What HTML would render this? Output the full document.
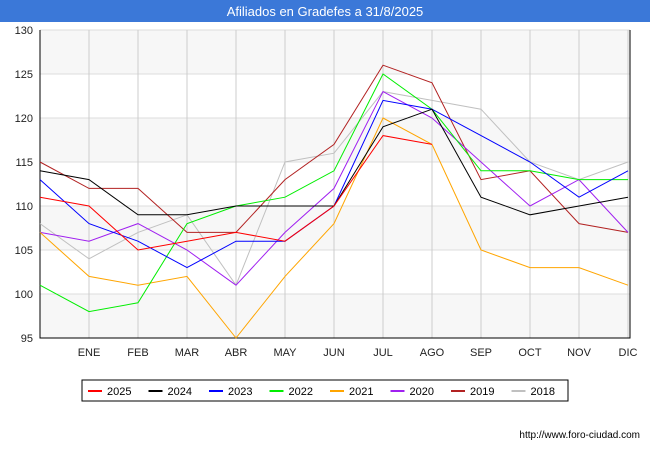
<!DOCTYPE html>
<html><head><meta charset="utf-8"><style>
body{margin:0;width:650px;height:450px;background:#fff;font-family:"Liberation Sans",sans-serif;overflow:hidden}
</style></head><body>
<svg width="650" height="450" font-family="Liberation Sans, sans-serif">
<rect x="0" y="0" width="650" height="22" fill="#3b78d8"/>
<text x="325" y="16" text-anchor="middle" fill="#fff" font-size="13">Afiliados en Gradefes a 31/8/2025</text>
<g id="plot"></g>
<text x="640" y="438" text-anchor="end" font-size="10" fill="#000">http://www.foro-ciudad.com</text>
</svg>
<script>
const months=["","ENE","FEB","MAR","ABR","MAY","JUN","JUL","AGO","SEP","OCT","NOV","DIC"];
const yTicks=[95,100,105,110,115,120,125,130];
const seriesNames=["2025","2024","2023","2022","2021","2020","2019","2018"];
const colors=["#ff0000","#000000","#0000ff","#00ee00","#ffa500","#a020f0","#b22222","#c0c0c0"];
const s2025=[111,110,105,106,107,106,110,118,117];
const s2024=[114,113,109,109,110,110,110,119,121,111,109,110,111];
const s2023=[113,108,106,103,106,106,110,122,121,118,115,111,114];
const s2022=[101,98,99,108,110,111,114,125,121,114,114,113,113];
const s2021=[107,102,101,102,95,102,108,120,117,105,103,103,101];
const s2020=[107,106,108,105,101,107,112,123,120,115,110,113,107];
const s2019=[115,112,112,107,107,113,117,126,124,113,114,108,107];
const s2018=[108,104,107,109,101,115,116,123,122,121,115,113,115];
const allSeries=[s2025,s2024,s2023,s2022,s2021,s2020,s2019,s2018];
const NS="http://www.w3.org/2000/svg";
const g=document.getElementById('plot');
const X0=40,X1=628,Y0=338,Y1=30;
const xs=i=>X0+i*(X1-X0)/12;
const ys=v=>Y0-(v-95)*(Y0-Y1)/35;
function el(t,a){const e=document.createElementNS(NS,t);for(const k in a)e.setAttribute(k,a[k]);g.appendChild(e);return e;}
for(let i=0;i<yTicks.length-1;i++){
 if(i%2==0){const b=el('rect',{x:X0,y:ys(yTicks[i+1]),width:630-X0,height:ys(yTicks[i])-ys(yTicks[i+1]),fill:'#f7f7f7'});
 
 }
}
yTicks.forEach(v=>{
 const l=el('line',{x1:X0,x2:630,y1:ys(v),y2:ys(v),stroke:'#dddddd'});
 
 
 const t=el('text',{x:X0-7,y:ys(v)+4,'text-anchor':'end','font-size':11,fill:'#222'});t.textContent=v;
 
 
});
months.forEach((m,i)=>{
 if(i==0)return;
 const l=el('line',{x1:xs(i),x2:xs(i),y1:Y1,y2:Y0,stroke:'#cccccc'});
 
 
 const t=el('text',{x:xs(i),y:Y0+18,'text-anchor':'middle','font-size':11,fill:'#222'});t.textContent=m;
 
 
});
const ax=el('path',{d:`M${X0},${Y1}V${Y0}H630V${Y1}`,fill:'none',stroke:'#000'});


for(let k=allSeries.length-1;k>=0;k--){
 const p=el('polyline',{points:allSeries[k].map((v,i)=>xs(i)+','+ys(v)).join(' '),fill:'none',stroke:colors[k],'stroke-width':1});
 
 
}
const lg=el('rect',{x:82,y:380,width:486,height:21,fill:'#fff',stroke:'#000'});


el('rect',{x:84,y:382,width:486,height:21,fill:'#888'}).remove();
seriesNames.forEach((n,k)=>{
 const x=88+k*60.5;
 const l=el('line',{x1:x,x2:x+14,y1:391,y2:391,stroke:colors[k],'stroke-width':2});
 
 
 const t=el('text',{x:x+19,y:395,'font-size':11,fill:'#000'});t.textContent=n;
 
 
});
</script>
</body></html>
